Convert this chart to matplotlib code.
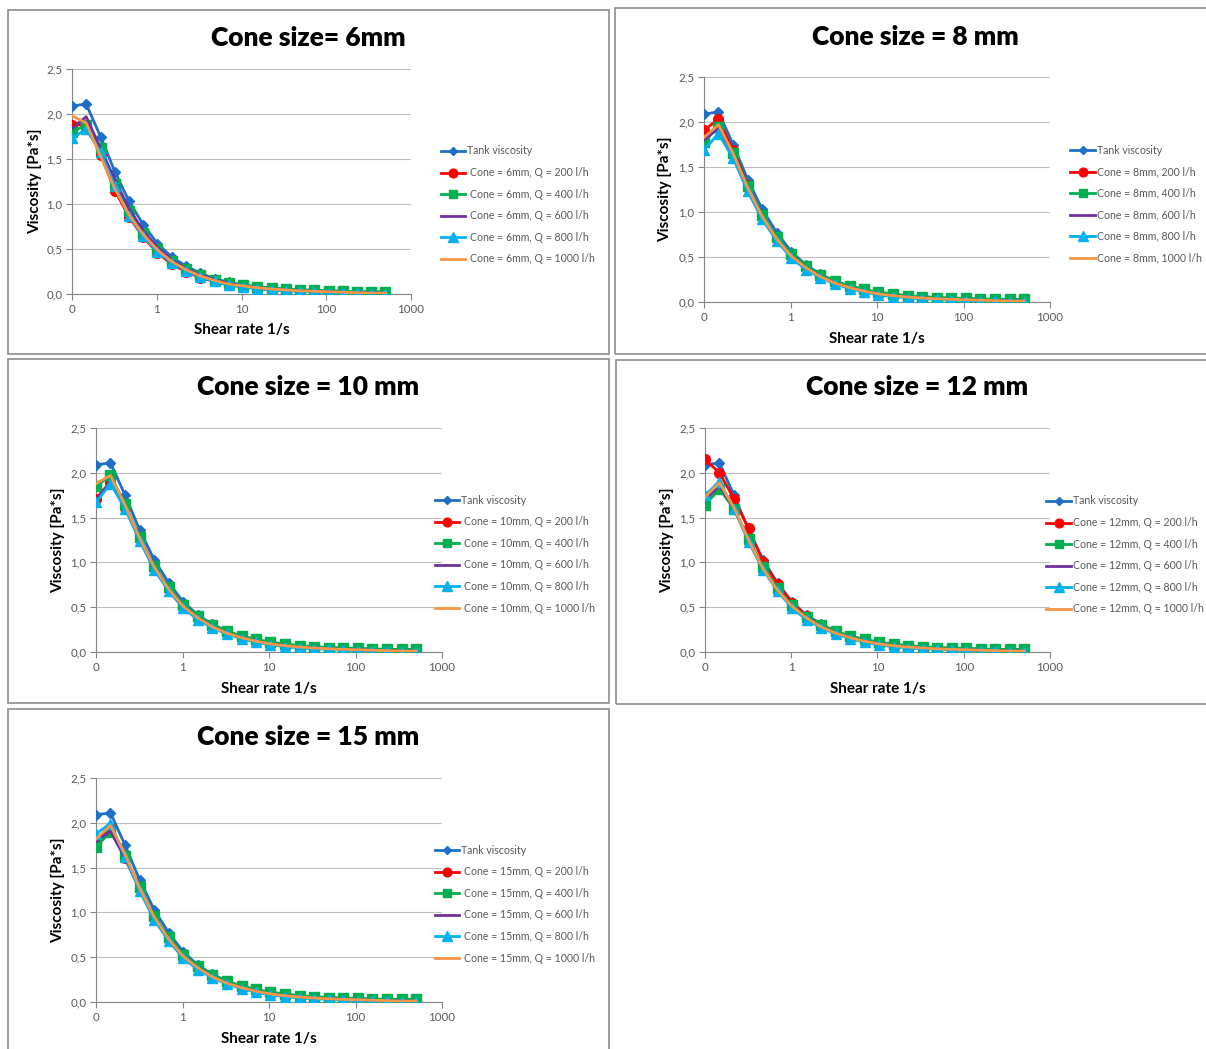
import matplotlib
matplotlib.use("Agg")
import matplotlib.pyplot as plt
from matplotlib.lines import Line2D
from matplotlib.patches import Rectangle
from matplotlib.ticker import FixedLocator, FixedFormatter, NullLocator

plt.rcParams['font.family'] = ['Lato', 'DejaVu Sans']

W, H = 1206, 1049

# shear rate points (1/s), first one shown as "0" on the axis
shear_rate = [0.1, 0.147, 0.217, 0.32, 0.471, 0.694, 1.02, 1.51, 2.22, 3.27, 4.81, 7.09,
              10.4, 15.4, 22.7, 33.4, 49.2, 72.5, 107, 157, 232, 341, 500]

tank = [2.09, 2.11, 1.75, 1.36, 1.03, 0.77, 0.56, 0.41, 0.31, 0.23, 0.17, 0.13,
        0.10, 0.08, 0.065, 0.055, 0.045, 0.04, 0.035, 0.03, 0.025, 0.02, 0.02]

# Q = 200, 400, 600, 800, 1000 l/h
cone_6mm = [
    [1.88, 1.88, 1.55, 1.15, 0.86, 0.63, 0.46, 0.33, 0.25, 0.18, 0.14, 0.10, 0.08, 0.06, 0.05, 0.04, 0.03, 0.025, 0.02, 0.015, 0.01, 0.01, 0.01],
    [1.80, 1.88, 1.62, 1.22, 0.92, 0.68, 0.50, 0.37, 0.28, 0.21, 0.16, 0.12, 0.10, 0.08, 0.065, 0.055, 0.045, 0.04, 0.035, 0.03, 0.025, 0.025, 0.025],
    [1.84, 1.97, 1.62, 1.27, 0.95, 0.70, 0.52, 0.38, 0.28, 0.21, 0.16, 0.12, 0.09, 0.07, 0.055, 0.045, 0.035, 0.03, 0.025, 0.02, 0.015, 0.01, 0.01],
    [1.73, 1.83, 1.58, 1.20, 0.87, 0.64, 0.47, 0.35, 0.26, 0.19, 0.14, 0.10, 0.08, 0.06, 0.045, 0.035, 0.03, 0.02, 0.015, 0.01, 0.01, 0.005, 0.005],
    [1.98, 1.90, 1.53, 1.17, 0.88, 0.66, 0.49, 0.36, 0.27, 0.20, 0.15, 0.11, 0.09, 0.07, 0.055, 0.045, 0.035, 0.03, 0.025, 0.02, 0.015, 0.01, 0.01],
]
cone_8mm = [
    [1.91, 2.03, 1.69, 1.30, 0.96, 0.71, 0.52, 0.39, 0.29, 0.22, 0.16, 0.12, 0.10, 0.08, 0.06, 0.05, 0.04, 0.03, 0.025, 0.02, 0.015, 0.01, 0.01],
    [1.78, 1.95, 1.66, 1.29, 0.97, 0.72, 0.53, 0.40, 0.30, 0.23, 0.18, 0.14, 0.11, 0.09, 0.07, 0.06, 0.05, 0.045, 0.04, 0.035, 0.03, 0.03, 0.03],
    [1.80, 1.93, 1.64, 1.26, 0.94, 0.69, 0.51, 0.38, 0.28, 0.21, 0.16, 0.12, 0.09, 0.07, 0.055, 0.045, 0.035, 0.03, 0.025, 0.02, 0.015, 0.01, 0.01],
    [1.69, 1.87, 1.60, 1.23, 0.92, 0.68, 0.49, 0.36, 0.27, 0.20, 0.15, 0.11, 0.08, 0.06, 0.045, 0.035, 0.03, 0.02, 0.015, 0.01, 0.01, 0.005, 0.005],
    [1.83, 1.97, 1.65, 1.27, 0.95, 0.70, 0.51, 0.38, 0.28, 0.21, 0.16, 0.12, 0.09, 0.07, 0.055, 0.045, 0.035, 0.03, 0.025, 0.02, 0.015, 0.01, 0.01],
]
cone_10mm = [
    [1.71, 1.90, 1.61, 1.27, 0.95, 0.70, 0.51, 0.38, 0.28, 0.21, 0.16, 0.12, 0.09, 0.07, 0.055, 0.045, 0.035, 0.03, 0.025, 0.02, 0.015, 0.01, 0.01],
    [1.85, 1.97, 1.65, 1.28, 0.96, 0.72, 0.53, 0.40, 0.30, 0.23, 0.18, 0.14, 0.11, 0.09, 0.07, 0.06, 0.05, 0.045, 0.04, 0.035, 0.03, 0.03, 0.03],
    [1.70, 1.90, 1.61, 1.27, 0.95, 0.70, 0.51, 0.38, 0.28, 0.21, 0.16, 0.12, 0.09, 0.07, 0.055, 0.045, 0.035, 0.03, 0.025, 0.02, 0.015, 0.01, 0.01],
    [1.67, 1.88, 1.60, 1.24, 0.92, 0.68, 0.49, 0.36, 0.27, 0.20, 0.15, 0.11, 0.08, 0.06, 0.045, 0.035, 0.03, 0.02, 0.015, 0.01, 0.01, 0.005, 0.005],
    [1.88, 1.97, 1.64, 1.27, 0.95, 0.70, 0.51, 0.38, 0.28, 0.21, 0.16, 0.12, 0.09, 0.07, 0.055, 0.045, 0.035, 0.03, 0.025, 0.02, 0.015, 0.01, 0.01],
]
cone_12mm = [
    [2.15, 2.00, 1.71, 1.38, 1.01, 0.76, 0.55, 0.40, 0.30, 0.22, 0.16, 0.12, 0.09, 0.07, 0.055, 0.045, 0.035, 0.03, 0.025, 0.02, 0.015, 0.01, 0.01],
    [1.64, 1.82, 1.60, 1.26, 0.95, 0.71, 0.52, 0.39, 0.30, 0.23, 0.18, 0.14, 0.11, 0.09, 0.07, 0.06, 0.05, 0.045, 0.04, 0.035, 0.03, 0.03, 0.03],
    [1.69, 1.86, 1.60, 1.25, 0.93, 0.69, 0.51, 0.38, 0.28, 0.21, 0.16, 0.12, 0.09, 0.07, 0.055, 0.045, 0.035, 0.03, 0.025, 0.02, 0.015, 0.01, 0.01],
    [1.75, 1.90, 1.60, 1.23, 0.92, 0.68, 0.49, 0.36, 0.27, 0.20, 0.15, 0.11, 0.08, 0.06, 0.045, 0.035, 0.03, 0.02, 0.015, 0.01, 0.01, 0.005, 0.005],
    [1.73, 1.89, 1.61, 1.25, 0.93, 0.69, 0.51, 0.38, 0.28, 0.21, 0.16, 0.12, 0.09, 0.07, 0.055, 0.045, 0.035, 0.03, 0.025, 0.02, 0.015, 0.01, 0.01],
]
cone_15mm = [
    [1.80, 1.94, 1.61, 1.27, 0.95, 0.70, 0.51, 0.38, 0.28, 0.21, 0.16, 0.12, 0.09, 0.07, 0.055, 0.045, 0.035, 0.03, 0.025, 0.02, 0.015, 0.01, 0.01],
    [1.73, 1.90, 1.63, 1.28, 0.96, 0.72, 0.53, 0.40, 0.30, 0.23, 0.18, 0.14, 0.11, 0.09, 0.07, 0.06, 0.05, 0.045, 0.04, 0.035, 0.03, 0.03, 0.03],
    [1.79, 1.91, 1.60, 1.26, 0.94, 0.69, 0.51, 0.38, 0.28, 0.21, 0.16, 0.12, 0.09, 0.07, 0.055, 0.045, 0.035, 0.03, 0.025, 0.02, 0.015, 0.01, 0.01],
    [1.88, 1.99, 1.62, 1.24, 0.92, 0.68, 0.49, 0.36, 0.27, 0.20, 0.15, 0.11, 0.08, 0.06, 0.045, 0.035, 0.03, 0.02, 0.015, 0.01, 0.01, 0.005, 0.005],
    [1.82, 1.97, 1.65, 1.27, 0.95, 0.70, 0.51, 0.38, 0.28, 0.21, 0.16, 0.12, 0.09, 0.07, 0.055, 0.045, 0.035, 0.03, 0.025, 0.02, 0.015, 0.01, 0.01],
]

flows = [200, 400, 600, 800, 1000]
x_ticks = [0.1, 1, 10, 100, 1000]
x_tick_labels = ['0', '1', '10', '100', '1000']
y_ticks = [0.0, 0.5, 1.0, 1.5, 2.0, 2.5]
y_tick_labels = ['0,0', '0,5', '1,0', '1,5', '2,0', '2,5']

colors = ['#FF0000', '#00B050', '#7030A0', '#00B0F0', '#F79646']
markers = ['o', 's', None, '^', None]
msizes = [7, 6.5, 0, 7.5, 0]
tank_color = '#1F6FC6'
GREY = '#595959'

# panel layouts in pixels: frame box, plot area (x0, x1, ytop, ybottom), title centre,
# legend (line x0, line x1, text x, first row y), y label x, x label y
panels = [
    dict(title='Cone size= 6mm', data=cone_6mm, fmt='Cone = 6mm, Q = {} l/h',
         box=(8, 10, 609, 354), plot=(72, 411, 69, 294), tc=(308, 38),
         leg=(441, 465, 470, 151), ylab=35, xlab=330),
    dict(title='Cone size = 8 mm', data=cone_8mm, fmt='Cone = 8mm, {} l/h',
         box=(615, 8, 1212, 354), plot=(704, 1050, 77, 302), tc=(915, 37),
         leg=(1070, 1095, 1097, 150), ylab=665, xlab=339),
    dict(title='Cone size = 10 mm', data=cone_10mm, fmt='Cone = 10mm, Q = {} l/h',
         box=(8, 359, 609, 703), plot=(96, 442, 428, 652), tc=(308, 387),
         leg=(435, 459, 464, 500), ylab=58, xlab=689),
    dict(title='Cone size = 12 mm', data=cone_12mm, fmt='Cone = 12mm, Q = {} l/h',
         box=(616, 360, 1212, 704), plot=(705, 1050, 428, 652), tc=(917, 387),
         leg=(1046, 1071, 1073, 501), ylab=667, xlab=689),
    dict(title='Cone size = 15 mm', data=cone_15mm, fmt='Cone = 15mm, Q = {} l/h',
         box=(8, 709, 609, 1060), plot=(96, 442, 778, 1002), tc=(308, 737),
         leg=(435, 459, 464, 850), ylab=58, xlab=1039),
]


def fx(px):
    return px / W


def fy(py):
    return 1 - py / H


fig = plt.figure(figsize=(W / 100, H / 100), dpi=100)

for p in panels:
    bx0, by0, bx1, by1 = p['box']
    fig.add_artist(Rectangle((fx(bx0), fy(by1)), fx(bx1 - bx0), (by1 - by0) / H,
                             transform=fig.transFigure, fill=False,
                             edgecolor='#8C8C8C', linewidth=1.2))

    x0, x1, yt, yb = p['plot']
    ax = fig.add_axes([fx(x0), fy(yb), fx(x1 - x0), (yb - yt) / H])
    ax.set_xscale('log')
    ax.set_xlim(0.1, 1000)
    ax.set_ylim(0, 2.5)

    ax.plot(shear_rate, tank, color=tank_color, lw=2.0, marker='D', ms=5, zorder=3)
    for vals, c, m, s in zip(p['data'], colors, markers, msizes):
        ax.plot(shear_rate, vals, color=c, lw=2.0, marker=m, ms=s, zorder=3)

    ax.xaxis.set_major_locator(FixedLocator(x_ticks))
    ax.xaxis.set_major_formatter(FixedFormatter(x_tick_labels))
    ax.xaxis.set_minor_locator(NullLocator())
    ax.set_yticks(y_ticks)
    ax.set_yticklabels(y_tick_labels)
    ax.tick_params(axis='both', labelsize=8.3, colors='#868686', labelcolor=GREY,
                   direction='out', length=4, width=0.8, pad=3)
    ax.grid(axis='y', color='#BFBFBF', lw=0.8)
    ax.set_axisbelow(True)
    for side in ['top', 'right']:
        ax.spines[side].set_visible(False)
    for side in ['left', 'bottom']:
        ax.spines[side].set_color('#868686')
        ax.spines[side].set_linewidth(0.8)

    fig.text(fx(p['tc'][0]), fy(p['tc'][1]), p['title'], ha='center', va='center',
             fontsize=19, fontweight='heavy', color='black')
    fig.text(fx(p['ylab']), fy((yt + yb) / 2), 'Viscosity [Pa*s]', rotation=90,
             ha='center', va='center', fontsize=11, fontweight='bold')
    fig.text(fx((x0 + x1) / 2), fy(p['xlab']), 'Shear rate 1/s', ha='center',
             va='center', fontsize=11, fontweight='bold')

    # legend drawn by hand so the rows sit where the reference has them
    lx0, lx1, tx, ly = p['leg']
    rows = [('Tank viscosity', tank_color, 'D', 4)]
    rows += [(p['fmt'].format(q), c, m, s * 0.9) for q, c, m, s in zip(flows, colors, markers, msizes)]
    for i, (lab, c, m, s) in enumerate(rows):
        yy = ly + i * 21.6
        fig.add_artist(Line2D([fx(lx0), fx(lx1)], [fy(yy), fy(yy)], transform=fig.transFigure,
                              color=c, lw=2.0))
        if m:
            fig.add_artist(Line2D([fx((lx0 + lx1) / 2)], [fy(yy)], transform=fig.transFigure,
                                  color=c, marker=m, ms=s, lw=0))
        fig.text(fx(lx1 + 2 if i == 0 else tx), fy(yy), lab, ha='left', va='center',
                 fontsize=7.6, color=GREY)

fig.savefig('out.png', dpi=100)
